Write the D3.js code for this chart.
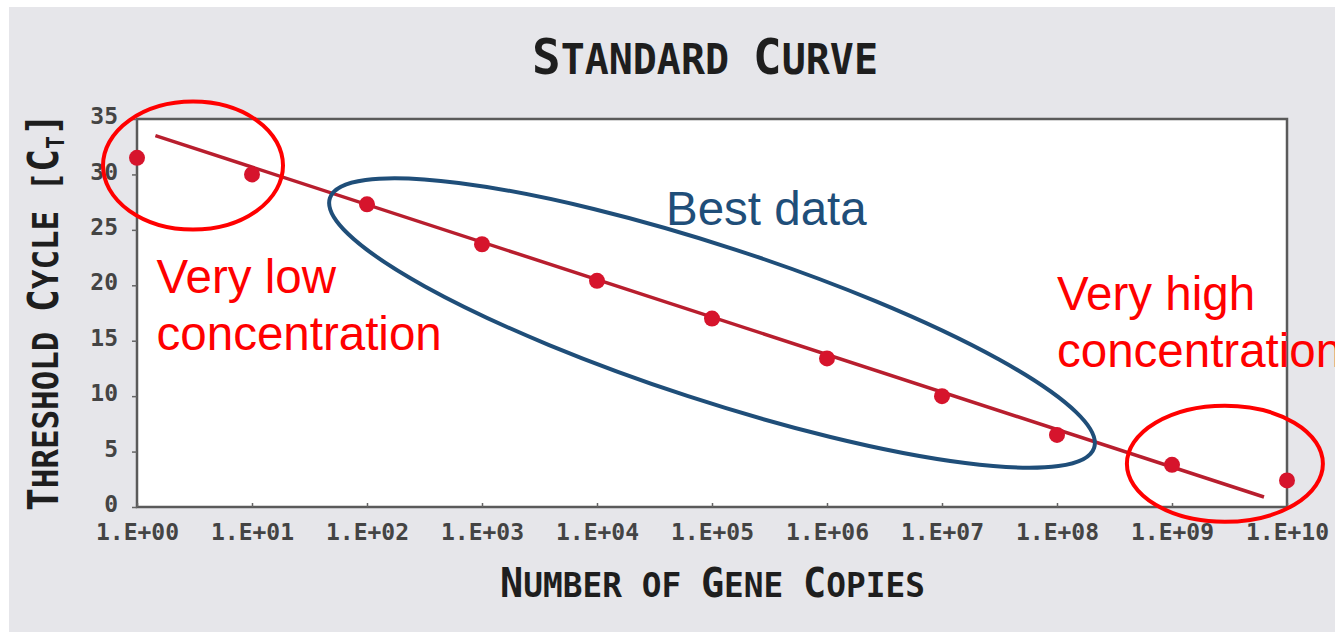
<!DOCTYPE html>
<html lang="en">
<head>
  <meta charset="UTF-8">
  <title>Standard Curve</title>
  <script src="https://d3js.org/d3.v7.min.js"></script>
  <style>
    body { margin: 0; background: #ffffff; }
    .tick text { font-family: "DejaVu Sans Mono", monospace; }
  </style>
</head>
<body>
<div class="main"></div>
<script>

  // gene copies (log10 exponent) and threshold cycle
  var exponents = [0, 1, 2, 3, 4, 5, 6, 7, 8, 9, 10];
  var ctValues = [31.5, 30.0, 27.3, 23.7, 20.4, 17.0, 13.4, 10.0, 6.5, 3.8, 2.4];
  var tickLabels = ["1.E+00", "1.E+01", "1.E+02", "1.E+03", "1.E+04", "1.E+05",
                    "1.E+06", "1.E+07", "1.E+08", "1.E+09", "1.E+10"];
  var yTicks = [0, 5, 10, 15, 20, 25, 30, 35];

  // fitted line end points (exponent, ct)
  var fitX = [0.16, 9.8];
  var fitY = [33.5, 0.9];

  let width = 1335;
  let height = 632;
  let plotLeft = 137, plotRight = 1287, plotTop = 119, plotBottom = 507;

  let svg = d3.select(".main")
          .append("svg")
          .attr("width", width)
          .attr("height", height)
          .style("display", "block");

  // grey panel behind everything
  svg.append("rect")
          .attr("x", 9).attr("y", 7)
          .attr("width", width - 9).attr("height", height - 7)
          .style("fill", "#e6e6ea");

  let xScale = d3.scaleLinear().domain([0, 10]).range([plotLeft, plotRight]);
  let yScale = d3.scaleLinear().domain([0, 35]).range([plotBottom, plotTop]);

  svg.append("rect")
          .attr("x", plotLeft).attr("y", plotTop)
          .attr("width", plotRight - plotLeft).attr("height", plotBottom - plotTop)
          .style("fill", "#ffffff")
          .style("stroke", "#5a5a5a")
          .style("stroke-width", 2.5);

  let xAxis = d3.axisBottom(xScale)
          .tickValues(exponents)
          .tickFormat(function(d, i) { return tickLabels[i]; })
          .tickSize(-4)
          .tickPadding(17);

  let yAxis = d3.axisLeft(yScale)
          .tickValues(yTicks)
          .tickSize(5)
          .tickPadding(14);

  function draw(axis, translate, cls){
    let g = svg.append("g")
            .attr("transform", translate)
            .attr("class", cls)
            .call(axis);
    g.select(".domain").remove();
    g.selectAll(".tick line").style("stroke", "#666").style("stroke-width", 1.5);
    g.selectAll(".tick text")
            .style("font-size", "23px")
            .style("fill", "#444")
            .style("font-weight", "bold");
    return g;
  }

  draw(xAxis, `translate(0, ${plotBottom})`, "xaxis");
  let yG = draw(yAxis, `translate(${plotLeft}, 0)`, "yaxis");
  yG.selectAll(".tick text").attr("dy", "0.2em");

  // fit line
  let line = d3.line()
          .x(function(d) { return xScale(d[0]); })
          .y(function(d) { return yScale(d[1]); });

  svg.append("path")
          .datum(d3.zip(fitX, fitY))
          .attr("d", line)
          .style("fill", "none")
          .style("stroke", "#b81e2e")
          .style("stroke-width", 3.5);

  svg.append("g")
          .selectAll("circle")
          .data(d3.zip(exponents, ctValues))
          .join("circle")
          .attr("class", "pointCircle")
          .attr("cx", function(d) { return xScale(d[0]); })
          .attr("cy", function(d) { return yScale(d[1]); })
          .attr("r", 8)
          .style("fill", "#d6142c");

  // small caps text: first letter of each word bigger ("of" stays small)
  function smallCaps(sel, str, big, small){
    str.split(" ").forEach(function(word, wi){
      if (wi > 0) sel.append("tspan").style("font-size", small + "px").text(" ");
      if (word === "OF") {
        sel.append("tspan").style("font-size", small + "px").text(word);
        return;
      }
      sel.append("tspan").style("font-size", big + "px").text(word[0]);
      sel.append("tspan").style("font-size", small + "px").text(word.slice(1));
    });
  }

  let title = svg.append("text")
          .attr("x", 532).attr("y", 74)
          .attr("textLength", 346).attr("lengthAdjust", "spacingAndGlyphs")
          .style("font-family", "DejaVu Sans Mono").style("font-weight", "bold")
          .style("fill", "#1e1e1e");
  smallCaps(title, "STANDARD CURVE", 50, 42);

  let xLabel = svg.append("text")
          .attr("x", 500).attr("y", 597)
          .attr("textLength", 425).attr("lengthAdjust", "spacingAndGlyphs")
          .style("font-family", "DejaVu Sans Mono").style("font-weight", "bold")
          .style("fill", "#1e1e1e");
  smallCaps(xLabel, "NUMBER OF GENE COPIES", 40, 34);

  let yLabel = svg.append("text")
          .attr("transform", "translate(58, 511) rotate(-90)")
          .attr("textLength", 398).attr("lengthAdjust", "spacingAndGlyphs")
          .style("font-family", "DejaVu Sans Mono").style("font-weight", "bold")
          .style("fill", "#1e1e1e");
  smallCaps(yLabel, "THRESHOLD CYCLE", 42, 36);
  yLabel.append("tspan").style("font-size", "36px").text(" [");
  yLabel.append("tspan").style("font-size", "42px").text("C");
  yLabel.append("tspan").style("font-size", "24px").attr("dy", 6).text("T");
  yLabel.append("tspan").style("font-size", "42px").attr("dy", -6).text("]");

  // annotation notes and circles, placed in data units
  var noteText = [["Very low", "concentration"], ["Best data"], ["Very high", "concentration"]];
  var noteX = [0.17, 4.6, 8.0];
  var noteY = [19.3, 25.4, 17.8];
  var noteColor = ["#ff0000", "#1f4e79", "#ff0000"];

  noteText.forEach(function(lines, i){
    let t = svg.append("text")
            .attr("x", xScale(noteX[i])).attr("y", yScale(noteY[i]))
            .style("font-family", "Liberation Sans, Arial, sans-serif")
            .style("font-size", "47.5px")
            .style("fill", noteColor[i]);
    lines.forEach(function(s, j){
      t.append("tspan").attr("x", xScale(noteX[i])).attr("dy", j === 0 ? 0 : 57).text(s);
    });
  });

  var ringX = [0.487, 5.0, 9.46];
  var ringY = [30.8, 16.6, 3.9];
  var ringRx = [90, 402, 98];
  var ringRy = [64, 77, 58];
  var ringAngle = [0, 18.1, 0];
  var ringColor = ["#ff0000", "#1f4e79", "#ff0000"];

  svg.append("g")
          .selectAll("ellipse")
          .data(d3.range(ringX.length))
          .join("ellipse")
          .attr("transform", function(i) {
            return `translate(${xScale(ringX[i])}, ${yScale(ringY[i])}) rotate(${ringAngle[i]})`;
          })
          .attr("rx", function(i) { return ringRx[i]; })
          .attr("ry", function(i) { return ringRy[i]; })
          .style("fill", "none")
          .style("stroke", function(i) { return ringColor[i]; })
          .style("stroke-width", 4);

</script>
</body>
</html>
